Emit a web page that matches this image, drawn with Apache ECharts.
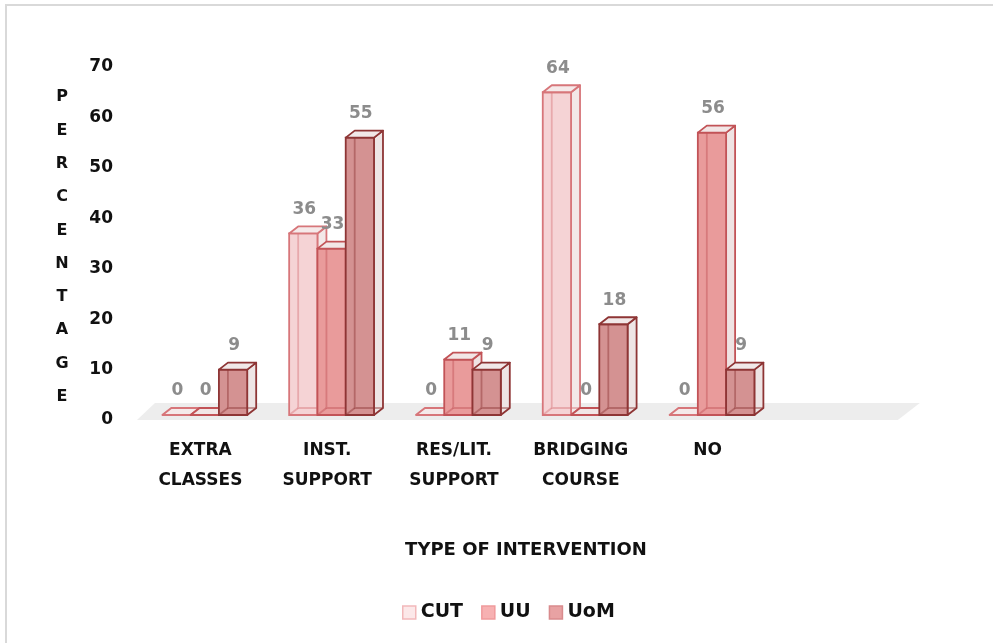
<!DOCTYPE html>
<html>
<head>
<meta charset="utf-8">
<title>Type of intervention</title>
<script src="https://cdn.jsdelivr.net/npm/echarts@6/dist/echarts.min.js"></script>
<style>
  html, body { margin: 0; padding: 0; background: #ffffff; }
  #chart { width: 993px; height: 643px; }
</style>
</head>
<body>
<div id="chart"></div>
<script>
// Intervention categories and percentages per institution
const categories = ['EXTRA\nCLASSES', 'INST.\nSUPPORT', 'RES/LIT.\nSUPPORT', 'BRIDGING\nCOURSE', 'NO'];
const cutValues = [0, 36, 0, 64, 0];
const uuValues  = [0, 33, 11, 0, 56];
const uomValues = [9, 55, 9, 18, 9];
const seriesNames = ['CUT', 'UU', 'UoM'];
const yTicks = { min: 0, max: 70, interval: 10 };

const FONT = '"DejaVu Sans", "Liberation Sans", sans-serif';

// Face colours for the pseudo-3D columns
const palette = [
  { front: '#F5D3D5', edge: '#D7767A', side: '#F3E8E8', top: '#F5EAEA', legend: '#FCE8E9', legendEdge: '#F2B8BA' },
  { front: '#E99B9B', edge: '#C25357', side: '#EFE3E3', top: '#F2E6E6', legend: '#F7B1B2', legendEdge: '#F09A9C' },
  { front: '#D49292', edge: '#8E3535', side: '#EEE5E5', top: '#F1E8E8', legend: '#E8A2A3', legendEdge: '#D98B8D' }
];

const DEPTH_X = 9, DEPTH_Y = -7, LIFT = 5;

function columnRenderer(seriesIdx) {
  const c = palette[seriesIdx];
  return function (params, api) {
    const cat = api.value(0);
    const val = api.value(1);
    const band = api.size([1, 0])[0];
    const w = band * 0.223;
    const cx = api.coord([cat, 0])[0];
    const x0 = cx - band * 0.3 + seriesIdx * w;
    const x1 = x0 + w;
    const yb = api.coord([cat, 0])[1] - LIFT;
    const yt = api.coord([cat, val])[1] - LIFT;
    const dx = DEPTH_X, dy = DEPTH_Y;
    const lw = 1.8;
    const children = [];
    // right side face
    children.push({
      type: 'polygon',
      shape: { points: [[x1, yt], [x1 + dx, yt + dy], [x1 + dx, yb + dy], [x1, yb]] },
      style: { fill: c.side, stroke: c.edge, lineWidth: lw, lineJoin: 'round' }
    });
    // front face
    children.push({
      type: 'rect',
      shape: { x: x0, y: yt, width: w, height: yb - yt },
      style: { fill: c.front, stroke: null }
    });
    // hidden back edges seen through the translucent column
    children.push({
      type: 'polyline',
      shape: { points: [[x0 + dx, yt + dy], [x0 + dx, yb + dy], [x1 + dx, yb + dy]] },
      style: { fill: null, stroke: c.edge, opacity: 0.45, lineWidth: lw }
    });
    children.push({
      type: 'line',
      shape: { x1: x0, y1: yb, x2: x0 + dx, y2: yb + dy },
      style: { stroke: c.edge, opacity: 0.45, lineWidth: lw }
    });
    // front outline
    children.push({
      type: 'rect',
      shape: { x: x0, y: yt, width: w, height: yb - yt },
      style: { fill: null, stroke: c.edge, lineWidth: lw }
    });
    // top face
    children.push({
      type: 'polygon',
      shape: { points: [[x0, yt], [x1, yt], [x1 + dx, yt + dy], [x0 + dx, yt + dy]] },
      style: { fill: c.top, stroke: c.edge, lineWidth: lw, lineJoin: 'round' }
    });
    // value label
    children.push({
      type: 'text',
      style: {
        text: String(val),
        x: x0 + w / 2 + 1,
        y: yt - 24,
        align: 'center',
        verticalAlign: 'middle',
        fill: '#8C8C8C',
        font: 'bold 17px ' + FONT
      }
    });
    return { type: 'group', children: children };
  };
}

function toPairs(values) {
  return values.map((v, i) => [i, v]);
}

const chart = echarts.init(document.getElementById('chart'), null, { renderer: 'canvas' });

const valueSets = [cutValues, uuValues, uomValues];

const option = {
  backgroundColor: '#ffffff',
  animation: false,
  grid: { left: 137, right: 222, top: 67, bottom: 223, containLabel: false },
  xAxis: {
    type: 'category',
    data: categories,
    axisLine: { show: false },
    axisTick: { show: false },
    axisLabel: {
      margin: 16,
      fontFamily: FONT,
      fontWeight: 'bold',
      fontSize: 17,
      lineHeight: 30,
      color: '#111111'
    },
    splitLine: { show: false }
  },
  yAxis: {
    type: 'value',
    min: yTicks.min,
    max: yTicks.max,
    interval: yTicks.interval,
    axisLine: { show: false },
    axisTick: { show: false },
    splitLine: { show: false },
    axisLabel: {
      margin: 24,
      fontFamily: FONT,
      fontWeight: 'bold',
      fontSize: 17,
      color: '#111111'
    }
  },
  legend: {
    data: seriesNames.map((n, i) => ({
      name: n,
      icon: 'rect',
      itemStyle: { color: palette[i].legend, borderColor: palette[i].legendEdge, borderWidth: 1.5 }
    })),
    left: 397,
    top: 598,
    itemWidth: 13,
    itemHeight: 13,
    itemGap: 18,
    textStyle: {
      fontFamily: FONT,
      fontWeight: 'bold',
      fontSize: 19,
      color: '#111111'
    }
  },
  graphic: [
    {
      type: 'rect',
      silent: true,
      shape: { x: 6, y: 5, width: 1200, height: 1000 },
      style: { fill: null, stroke: '#D9D9D9', lineWidth: 2 }
    },
    {
      type: 'text',
      silent: true,
      style: {
        text: 'P\nE\nR\nC\nE\nN\nT\nA\nG\nE',
        x: 62,
        y: 247,
        align: 'center',
        verticalAlign: 'middle',
        lineHeight: 33.3,
        fill: '#111111',
        font: 'bold 16px ' + FONT
      }
    },
    {
      type: 'text',
      silent: true,
      style: {
        text: 'TYPE OF INTERVENTION',
        x: 526,
        y: 550,
        align: 'center',
        verticalAlign: 'middle',
        fill: '#111111',
        font: 'bold 18px ' + FONT
      }
    }
  ],
  series: [
    {
      // gray floor under the columns
      name: 'floor',
      type: 'custom',
      silent: true,
      z: 1,
      data: [[0, 0]],
      renderItem: function (params, api) {
        const cs = params.coordSys;
        const bottom = cs.y + cs.height;
        const top = bottom - 17;
        const left = cs.x;
        const right = cs.x + cs.width * 1.2;
        return {
          type: 'polygon',
          shape: { points: [[left, bottom], [right, bottom], [right + 22, top], [left + 18, top]] },
          style: { fill: '#EDEDED' }
        };
      }
    }
  ].concat(seriesNames.map((name, i) => ({
    name: name,
    type: 'custom',
    z: 2 + i,
    itemStyle: { color: palette[i].legend },
    data: toPairs(valueSets[i]),
    renderItem: columnRenderer(i)
  })))
};

chart.setOption(option);
</script>
</body>
</html>
